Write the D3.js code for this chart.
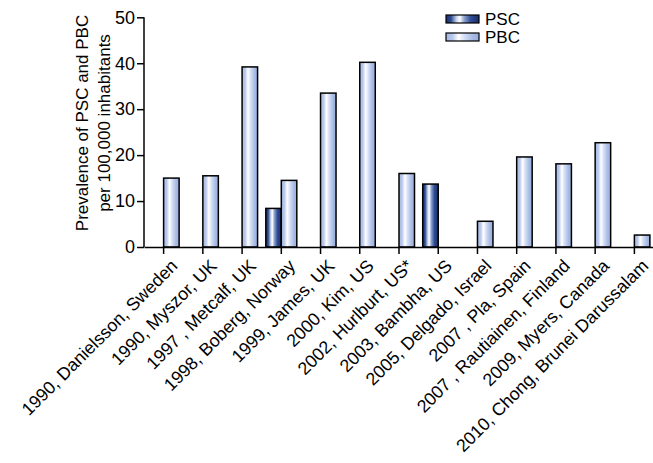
<!DOCTYPE html>
<html><head><meta charset="utf-8">
<script src="https://cdn.jsdelivr.net/npm/d3@7"></script>
<style>body{margin:0;background:#fff}svg{display:block}text{font-family:"Liberation Sans",Arial,sans-serif}</style>
</head><body><svg id="c" width="653" height="463"></svg>
<script>
const categories = ["1990, Danielsson, Sweden","1990, Myszor, UK","1997 , Metcalf, UK","1998, Boberg, Norway","1999, James, UK","2000, Kim, US","2002, Hurlburt, US*","2003, Bambha, US","2005, Delgado, Israel","2007 , Pla, Spain","2007 , Rautiainen, Finland","2009, Myers, Canada","2010, Chong, Brunei Darussalam"];
const pscValues = [null,null,null,8.4,null,null,null,13.7,null,null,null,null,null];
const pbcValues = [15.0,15.5,39.2,14.5,33.5,40.2,16.0,null,5.6,19.6,18.1,22.7,2.6];
const yTicks = [0,10,20,30,40,50];
const seriesNames = ["PSC","PBC"];

const svg = d3.select("#c");
const x0 = 144, x1 = 654, yTop = 17.3, yBot = 247;
const x = d3.scaleBand().domain(categories).range([x0, x1]);
const y = d3.scaleLinear().domain([0,50]).range([yBot, yTop]);
const bw = 15.5;

const defs = svg.append("defs");
function grad(id, stops){
  const g = defs.append("linearGradient").attr("id",id).attr("x1","0").attr("x2","1").attr("y1","0").attr("y2","0");
  stops.forEach(s=>g.append("stop").attr("offset",s[0]).attr("stop-color",s[1]));
}
grad("gPSC",[[0,"#1b2f6e"],[0.15,"#2c4a8e"],[0.32,"#c8d4ee"],[0.42,"#ffffff"],[0.55,"#8da2d2"],[0.75,"#2f4c93"],[1,"#1a2d6a"]]);
grad("gPBC",[[0,"#a6b9e3"],[0.2,"#b9c9ec"],[0.38,"#ffffff"],[0.55,"#d6e0f5"],[0.8,"#a9bce5"],[1,"#97addf"]]);

const c = x.bandwidth()/2;
categories.forEach((cat,i)=>{
  const cx = x(cat)+c;
  if(pscValues[i]!=null){
    svg.append("rect").attr("x",cx-bw).attr("y",y(pscValues[i])).attr("width",bw).attr("height",y(0)-y(pscValues[i]))
      .attr("fill","url(#gPSC)").attr("stroke","#000").attr("stroke-width",1.5);
  }
  if(pbcValues[i]!=null){
    svg.append("rect").attr("x",cx).attr("y",y(pbcValues[i])).attr("width",bw).attr("height",y(0)-y(pbcValues[i]))
      .attr("fill","url(#gPBC)").attr("stroke","#000").attr("stroke-width",1.5);
  }
});

const FF = "Liberation Sans, Arial, sans-serif";
const ya = svg.append("g").attr("transform",`translate(${x0},0)`)
  .call(d3.axisLeft(y).tickValues(yTicks).tickSize(7).tickPadding(2).tickFormat(d3.format("d")));
ya.select(".domain").attr("stroke-width",1.5).attr("d",`M0,${yTop}V${yBot}`);
ya.selectAll(".tick line").attr("stroke-width",1.5);
ya.selectAll("text").attr("font-size",18).attr("fill","#000").style("font-family",FF);

const xa = svg.append("g").attr("transform",`translate(0,${yBot})`)
  .call(d3.axisBottom(x).tickSize(7).tickSizeOuter(0));
xa.select(".domain").attr("stroke-width",1.5);
xa.selectAll(".tick line").attr("stroke-width",1.5);
xa.selectAll(".tick text")
  .attr("font-size",17.8).attr("fill","#000").style("font-family",FF)
  .attr("text-anchor","end").attr("dy",null).attr("y",0)
  .attr("transform","translate(15,20) rotate(-45)");

const yt = svg.append("text").attr("transform",`translate(88,123) rotate(-90)`).attr("text-anchor","middle").attr("font-size",17).attr("fill","#000").style("font-family",FF);
yt.append("tspan").attr("x",0).attr("y",0).text("Prevalence of PSC and PBC");
yt.append("tspan").attr("x",0).attr("y",22).text("per 100,000 inhabitants");

const lg = svg.append("g");
seriesNames.forEach((n,i)=>{
  lg.append("rect").attr("x",446).attr("y",15+i*18).attr("width",33).attr("height",8)
    .attr("fill", i==0?"url(#gPSC)":"url(#gPBC)").attr("stroke","#000").attr("stroke-width",1.2);
  lg.append("text").attr("x",485).attr("y",25+i*17.5).attr("font-size",17).attr("fill","#000").style("font-family",FF).text(n);
});
</script></body></html>
